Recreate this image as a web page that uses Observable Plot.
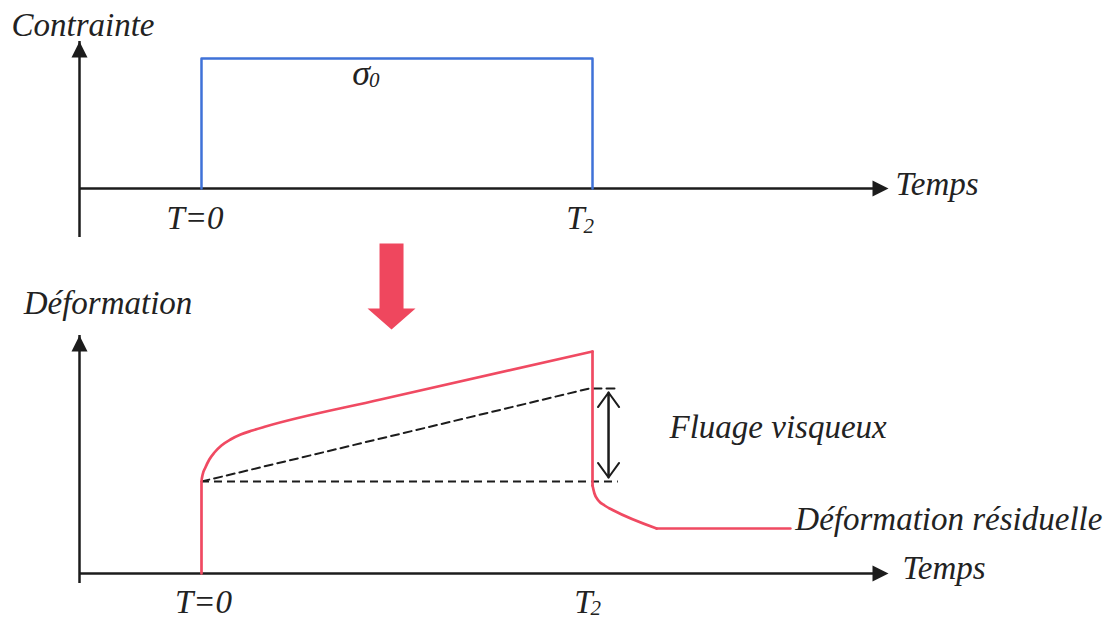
<!DOCTYPE html>
<html><head><meta charset="utf-8">
<script src="https://cdn.jsdelivr.net/npm/d3@7"></script>
<script src="https://cdn.jsdelivr.net/npm/@observablehq/plot@0.6"></script>
<style>body{margin:0;background:#fff} svg{display:block}</style>
</head><body><div id="chart"></div>
<script>
// ---- data (time: T=0 → 0, T2 → 10; arbitrary units) ----
const timeAxis = [-3.12, 17.57];          // extent of the time axis (arrow tip at end)
const stressAxis = [-0.3, 1.13];          // extent of the stress axis
const strainAxis = [0, 2.38];             // extent of the strain axis
const T0 = 0, T2 = 10;
const stressTime  = [0, 0, 10, 10];
const stressValue = [0, 1, 1, 0];          // σ0 = 1
const creepTime   = [0, 0, 0.03, 0.10, 0.20, 0.33, 0.51, 0.74, 1.00, 1.30, 1.64, 4.58, 10];
const creepStrain = [0, 0.92, 0.99, 1.06, 1.14, 1.21, 1.28, 1.34, 1.39, 1.43, 1.47, 1.74, 2.22];
const recovTime   = [10, 10, 10.05, 10.15, 10.31, 10.54, 11.64, 15.06];
const recovStrain = [2.22, 0.88, 0.80, 0.73, 0.68, 0.63, 0.45, 0.45];
const elasticLevel = 0.92;
const elasticEnd = 10.66;
const viscTime   = [0, 9.92, 10.59];
const viscStrain = [0.92, 1.85, 1.85];
const viscArrowTime = 10.41;
const viscArrowEnds = [0.96, 1.81];
const bigArrowTime = [4.86];
const bigArrowStrain = [2.44];

const ink = "#1c1c1c", blue = "#3f72d8", red = "#f04a62", bigRed = "#ef475e";
const font = {fontFamily: "Liberation Serif", fontStyle: "italic", fontSize: 33, fill: "#222", stroke: "none"};
const sub = {...font, fontSize: 21};
const headUp = {draw(c){ c.moveTo(0,0); c.lineTo(-8,16); c.lineTo(8,16); c.closePath(); }};
const bigArrowSym = {draw(c){
  c.moveTo(0,0); c.lineTo(-24,-21); c.lineTo(-12,-21); c.lineTo(-12,-86);
  c.lineTo(12,-86); c.lineTo(12,-21); c.lineTo(24,-21); c.closePath(); }};

const W = 1116;
const rows = (xs, ys) => xs.map((x, i) => ({x, y: ys[i]}));
const recov = rows(recovTime, recovStrain);

function axes(yAxis) {
  return [
    Plot.ruleX([{x: timeAxis[0], y1: yAxis[0], y2: yAxis[1]}], {x: "x", y1: "y1", y2: "y2", insetTop: 10, stroke: ink, strokeWidth: 2.5}),
    Plot.ruleY([{y: 0, x1: timeAxis[0], x2: timeAxis[1]}], {y: "y", x1: "x1", x2: "x2", insetRight: 10, stroke: ink, strokeWidth: 2.5}),
    Plot.dot([{x: timeAxis[0], y: yAxis[1]}], {x: "x", y: "y", symbol: headUp, r: 5, fill: ink, stroke: "none"}),
    Plot.dot([{x: timeAxis[1], y: 0}], {x: "x", y: "y", symbol: headUp, r: 5, rotate: 90, fill: ink, stroke: "none"})
  ];
}

const topPlot = Plot.plot({
  width: W, height: 240, marginLeft: 79, marginRight: 228, marginTop: 41, marginBottom: 13,
  x: {domain: timeAxis, axis: null},
  y: {domain: stressAxis, axis: null},
  style: {background: "#fff", overflow: "visible", fontFamily: "Liberation Serif"},
  marks: [
    ...axes(stressAxis),
    Plot.line(rows(stressTime, stressValue), {x: "x", y: "y", stroke: blue, strokeWidth: 2.5}),
    Plot.text([{x: timeAxis[0], y: stressAxis[1]}], {x: "x", y: "y", text: () => "Contrainte", dx: 3.5, dy: -16, textAnchor: "middle", ...font}),
    Plot.text([{x: (T0 + T2) / 2, y: 1}], {x: "x", y: "y", text: () => "σ", dx: -36, dy: 15, textAnchor: "middle", ...font, fontSize: 36}),
    Plot.text([{x: (T0 + T2) / 2, y: 1}], {x: "x", y: "y", text: () => "0", dx: -28, dy: 22, textAnchor: "start", ...sub}),
    Plot.text([{x: T0, y: 0}], {x: "x", y: "y", text: () => "T=0", dx: -6.5, dy: 30, textAnchor: "middle", ...font}),
    Plot.text([{x: T2, y: 0}], {x: "x", y: "y", text: () => "T", dx: -17, dy: 30, textAnchor: "middle", ...font}),
    Plot.text([{x: T2, y: 0}], {x: "x", y: "y", text: () => "2", dx: -9, dy: 38, textAnchor: "start", ...sub}),
    Plot.text([{x: timeAxis[1], y: 0}], {x: "x", y: "y", text: () => "Temps", dx: 7, dy: -4, textAnchor: "start", ...font})
  ]
});

const botPlot = Plot.plot({
  width: W, height: 379, marginLeft: 79, marginRight: 228, marginTop: 95, marginBottom: 46,
  x: {domain: timeAxis, axis: null},
  y: {domain: strainAxis, axis: null},
  style: {background: "#fff", overflow: "visible", fontFamily: "Liberation Serif"},
  marks: [
    ...axes(strainAxis),
    Plot.dot(rows(bigArrowTime, bigArrowStrain), {x: "x", y: "y", symbol: bigArrowSym, r: 5, fill: bigRed, stroke: "none"}),
    Plot.ruleY([{y: elasticLevel, x1: T0, x2: elasticEnd}], {y: "y", x1: "x1", x2: "x2", stroke: ink, strokeWidth: 2, strokeDasharray: "8,5"}),
    Plot.line(rows(viscTime, viscStrain), {x: "x", y: "y", stroke: ink, strokeWidth: 2, strokeDasharray: "8,5"}),
    Plot.arrow([{x: viscArrowTime, y1: viscArrowEnds[0], y2: viscArrowEnds[1]}], {x: "x", y1: "y1", y2: "y2", stroke: ink, strokeWidth: 2, headLength: 13.5, headAngle: 72}),
    Plot.arrow([{x: viscArrowTime, y1: viscArrowEnds[1], y2: viscArrowEnds[0]}], {x: "x", y1: "y1", y2: "y2", stroke: ink, strokeWidth: 2, headLength: 13.5, headAngle: 72}),
    Plot.line(rows(creepTime, creepStrain), {x: "x", y: "y", stroke: red, strokeWidth: 2.7, curve: "monotone-x"}),
    Plot.line(recov.slice(0, 2), {x: "x", y: "y", stroke: red, strokeWidth: 2.7}),
    Plot.line(recov.slice(1, recov.length - 1), {x: "x", y: "y", stroke: red, strokeWidth: 2.7, curve: "monotone-x"}),
    Plot.line(recov.slice(recov.length - 2), {x: "x", y: "y", stroke: red, strokeWidth: 2.7}),
    Plot.text([{x: timeAxis[0], y: strainAxis[1]}], {x: "x", y: "y", text: () => "Déformation", dx: 28.5, dy: -32, textAnchor: "middle", ...font}),
    Plot.text([{x: T0, y: 0}], {x: "x", y: "y", text: () => "T=0", dx: 2, dy: 29, textAnchor: "middle", ...font}),
    Plot.text([{x: T2, y: 0}], {x: "x", y: "y", text: () => "T", dx: -9, dy: 29, textAnchor: "middle", ...font}),
    Plot.text([{x: T2, y: 0}], {x: "x", y: "y", text: () => "2", dx: -2, dy: 35, textAnchor: "start", ...sub}),
    Plot.text([{x: timeAxis[1], y: 0}], {x: "x", y: "y", text: () => "Temps", dx: 14, dy: -5, textAnchor: "start", ...font}),
    Plot.text([{x: T2, y: (viscStrain[2] + elasticLevel) / 2}], {x: "x", y: "y", text: () => "Fluage visqueux", dx: 77, dy: -7.5, textAnchor: "start", ...font}),
    Plot.text([{x: recovTime[recovTime.length - 1], y: recovStrain[recovStrain.length - 1]}], {x: "x", y: "y", text: () => "Déformation résiduelle", dx: 5, dy: -9, textAnchor: "start", ...font})
  ]
});

const root = document.getElementById("chart");
root.appendChild(topPlot);
root.appendChild(botPlot);
</script></body></html>
